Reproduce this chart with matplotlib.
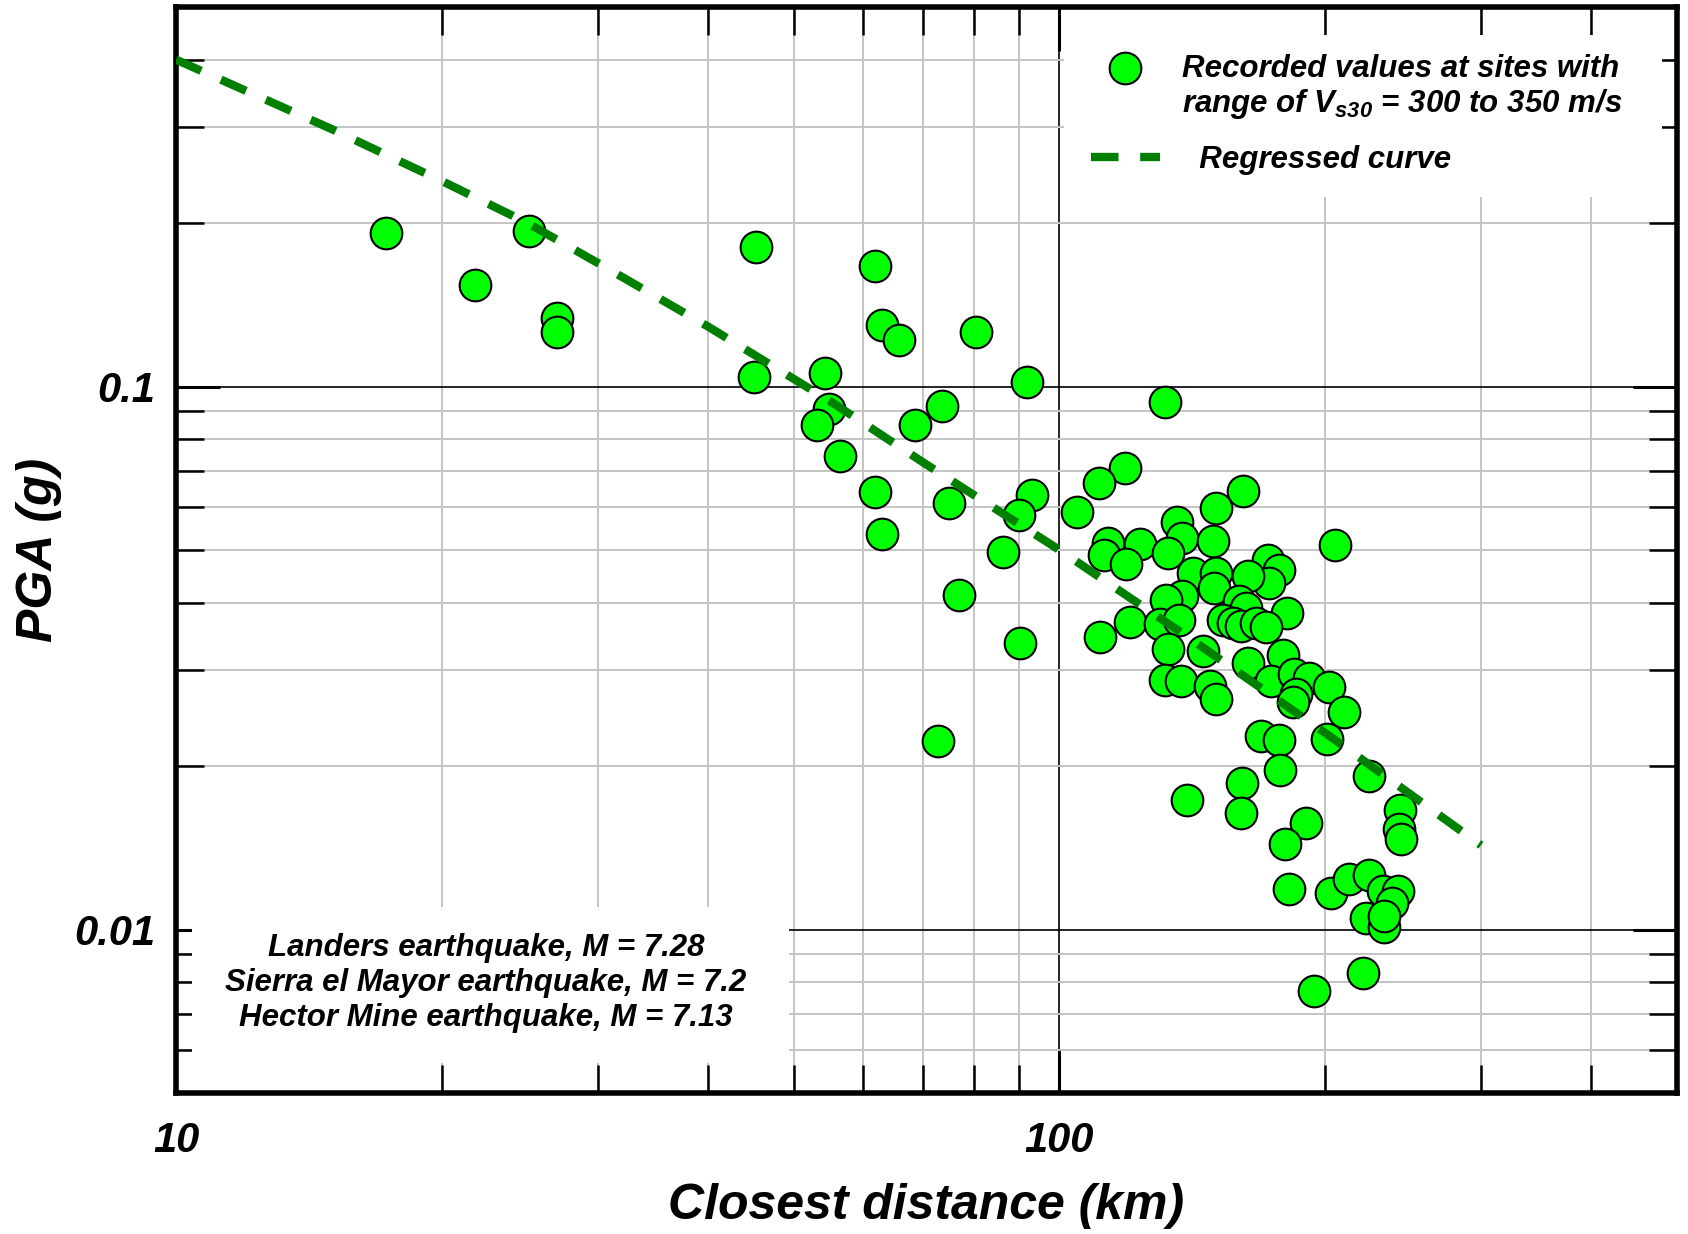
import matplotlib
matplotlib.use("Agg")
import matplotlib.pyplot as plt
from matplotlib.lines import Line2D
from matplotlib.patches import Rectangle

# bold italic everywhere, like the original figure
plt.rcParams['font.family'] = ['Liberation Sans', 'DejaVu Sans']
plt.rcParams['font.weight'] = 'bold'
plt.rcParams['font.style'] = 'italic'
plt.rcParams['axes.labelweight'] = 'bold'
plt.rcParams['mathtext.fontset'] = 'custom'
plt.rcParams['mathtext.rm'] = 'Liberation Sans:italic:bold'
plt.rcParams['mathtext.it'] = 'Liberation Sans:italic:bold'
plt.rcParams['mathtext.bf'] = 'Liberation Sans:italic:bold'

# recorded values: closest distance (km) and PGA (g)
dist = [17.3, 21.8, 25.1, 27.0, 27.0, 45.3, 61.8, 63.0, 65.9, 80.5,
        45.1, 54.3, 54.8, 53.2, 56.4, 68.7, 73.6, 91.9, 61.8, 62.9,
        74.9, 93.0, 90.0, 86.3, 76.9, 90.2, 72.9, 131.8, 118.5, 110.8,
        104.6, 161.2, 150.2, 135.7, 137.6, 149.1, 204.8, 113.4, 112.4, 123.4,
        118.8, 132.6, 141.5, 150.4, 149.4, 172.0, 177.4, 172.8, 163.3, 137.7,
        132.0, 159.8, 162.6, 181.0, 153.0, 157.0, 160.5, 166.9, 171.3, 120.3,
        129.8, 136.7, 111.0, 132.6, 145.3, 131.8, 137.3, 148.2, 150.2, 163.3,
        179.2, 173.6, 184.5, 191.8, 185.3, 184.0, 202.0, 209.9, 169.1, 177.1,
        200.8, 177.8, 224.2, 161.1, 139.5, 160.3, 243.0, 242.5, 243.6, 190.2,
        180.0, 182.0, 202.9, 212.8, 224.2, 232.2, 241.4, 238.2, 222.3, 233.2,
        232.8, 220.3, 194.0]
pga = [0.192, 0.154, 0.193, 0.134, 0.126, 0.181, 0.167, 0.130, 0.122, 0.126,
       0.104, 0.106, 0.091, 0.085, 0.0746, 0.085, 0.092, 0.102, 0.064, 0.0535,
       0.061, 0.063, 0.058, 0.0495, 0.0414, 0.0337, 0.0222, 0.0936, 0.0709, 0.0663,
       0.0587, 0.0642, 0.0598, 0.0562, 0.0526, 0.0519, 0.051, 0.0516, 0.049, 0.0512,
       0.0472, 0.0493, 0.0454, 0.0454, 0.0426, 0.048, 0.046, 0.0435, 0.0447, 0.0412,
       0.0405, 0.0402, 0.0391, 0.0382, 0.0372, 0.0367, 0.0362, 0.0367, 0.0361, 0.0369,
       0.0365, 0.0372, 0.0346, 0.0328, 0.0326, 0.0288, 0.0287, 0.0281, 0.0266, 0.0309,
       0.0321, 0.0287, 0.0295, 0.0291, 0.0271, 0.0262, 0.028, 0.0252, 0.0227, 0.0223,
       0.0224, 0.0197, 0.0192, 0.0186, 0.0173, 0.0164, 0.0166, 0.0153, 0.0147, 0.0157,
       0.0144, 0.0119, 0.0117, 0.0124, 0.0126, 0.0118, 0.0118, 0.0112, 0.0105, 0.0101,
       0.0106, 0.0083, 0.0077]

# regressed curve
curve_dist = [10, 15, 20, 25, 30, 40, 55, 70, 100, 140, 200, 300]
curve_pga = [0.40, 0.298, 0.239, 0.200, 0.169, 0.129, 0.094, 0.0726, 0.050, 0.0345, 0.023, 0.0143]

x_major = [10, 100]
x_minor = [20, 30, 40, 50, 60, 70, 80, 90, 200, 300, 400]
y_major = [0.01, 0.1]
y_minor = [0.006, 0.007, 0.008, 0.009,
           0.02, 0.03, 0.04, 0.05, 0.06, 0.07, 0.08, 0.09,
           0.2, 0.3, 0.4]

notes = ["Landers earthquake, M = 7.28",
         "Sierra el Mayor earthquake, M = 7.2",
         "Hector Mine earthquake, M = 7.13"]

fig = plt.figure(figsize=(16.88, 12.34), dpi=100)
ax = fig.add_axes([176 / 1688, 1 - 1093 / 1234, 1501 / 1688, 1086 / 1234])
ax.set_xscale('log')
ax.set_yscale('log')
ax.set_xlim(10, 500)
ax.set_ylim(0.005, 0.5)

ax.set_xticks(x_major, labels=['10', '100'])
ax.set_xticks(x_minor, minor=True, labels=[])
ax.set_yticks(y_major, labels=['0.01', '0.1'])
ax.set_yticks(y_minor, minor=True, labels=[])

ax.set_axisbelow(True)
ax.grid(which='major', color='black', lw=1.2)
ax.grid(which='minor', color='#c4c4c4', lw=1.4)

ax.tick_params(which='both', direction='in', top=True, right=True, labelsize=30)
ax.tick_params(which='major', length=32, width=2.2)
ax.tick_params(which='minor', length=20, width=1.8)
ax.tick_params(axis='x', pad=20)
ax.tick_params(axis='y', pad=15)
for s in ax.spines.values():
    s.set_linewidth(4)

# white boxes behind legend and note (they hide grid and ticks)
ax.add_patch(Rectangle((0.5916, 0.825), 0.3984, 0.1492, transform=ax.transAxes,
                       facecolor='white', edgecolor='none', zorder=1))
ax.add_patch(Rectangle((0.0107, 0.0276), 0.3977, 0.1437, transform=ax.transAxes,
                       facecolor='white', edgecolor='none', zorder=1))

pts = ax.scatter(dist, pga, s=520, facecolor='#00ff00', edgecolor='black',
                 linewidth=1.5, zorder=3)
line, = ax.plot(curve_dist, curve_pga, color='#007f00', lw=6,
                dashes=(3.3, 2.6), zorder=4)

leg_kw = dict(loc='upper left', frameon=False, borderpad=0, borderaxespad=0,
              fontsize=22.5, handlelength=2.2, handletextpad=0.7)
blank = Line2D([], [], linestyle='none')
leg1 = ax.legend([pts, blank],
                 ['Recorded values at sites with',
                  'range of $V_{s30}$ = 300 to 350 m/s'],
                 bbox_to_anchor=(0.6096, 0.957), labelspacing=0.1,
                 scatterpoints=1, **leg_kw)
ax.add_artist(leg1)
ax.legend([line], ['  Regressed curve'], bbox_to_anchor=(0.6096, 0.873), **leg_kw)

ax.text(0.2065, 0.1013, "\n".join(notes), transform=ax.transAxes,
        ha='center', va='center', multialignment='center', fontsize=22.5,
        linespacing=1.2, zorder=5)

ax.set_xlabel('Closest distance (km)', fontsize=36, labelpad=16)
ax.set_ylabel('PGA (g)', fontsize=36, labelpad=9)

fig.savefig('out.png', dpi=100)
